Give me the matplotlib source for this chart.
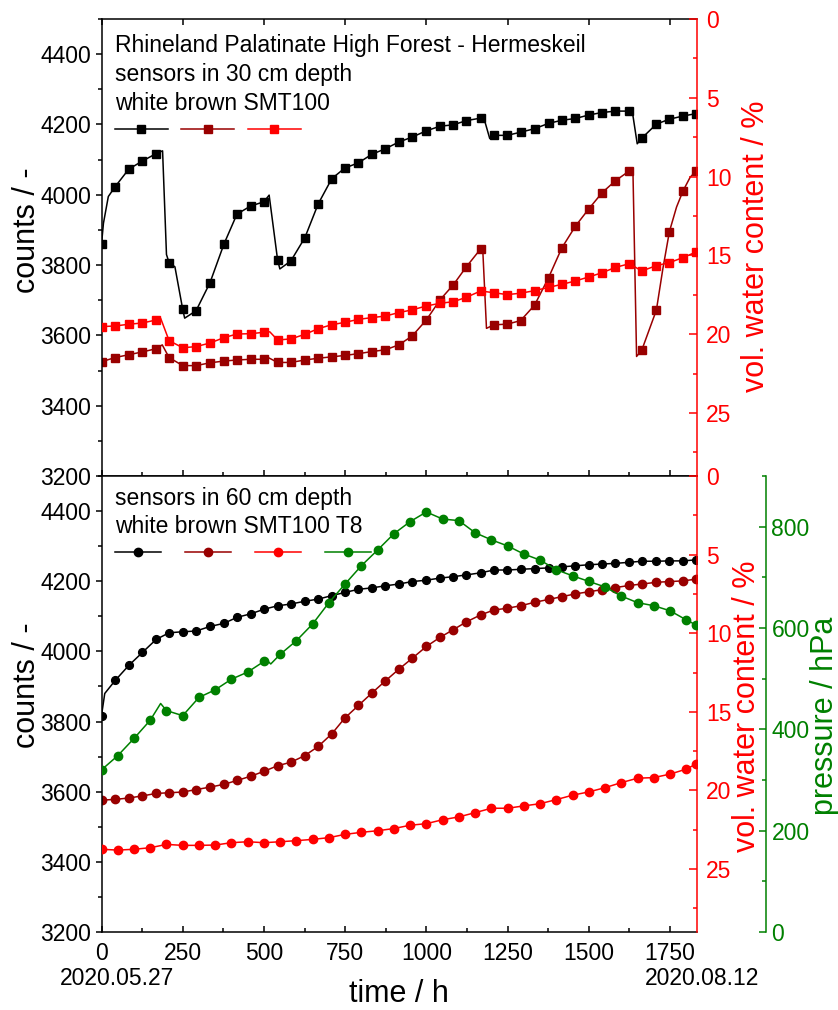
import matplotlib
matplotlib.use("Agg")
import matplotlib.pyplot as plt
from matplotlib.lines import Line2D
from matplotlib.ticker import MultipleLocator

plt.rcParams['font.family'] = ['Liberation Sans', 'DejaVu Sans']

# -------------------------------
# Data
# -------------------------------
# marker times for white / brown sensors (h)
t_sq = [0, 42, 84, 126, 168, 208, 250, 291, 334, 377, 417, 459, 500, 542, 583,
        626, 667, 709, 749, 791, 832, 874, 915, 956, 1000, 1042, 1083, 1123,
        1167, 1208, 1249, 1290, 1333, 1376, 1417, 1459, 1500, 1541, 1582, 1625,
        1663, 1708, 1748, 1790, 1831]

# 30 cm depth
white30 = [3859, 4023, 4073, 4096, 4117, 3807, 3674, 3670, 3750, 3860, 3945, 3968,
           3980, 3815, 3812, 3878, 3974, 4046, 4076, 4091, 4115, 4131, 4150, 4164,
           4182, 4195, 4199, 4211, 4218, 4169, 4169, 4178, 4188, 4203, 4212, 4217,
           4227, 4234, 4238, 4238, 4161, 4201, 4215, 4224, 4231]
white30_xe = [6, 21, 188, 200, 226, 256, 516, 549, 1178, 1195, 1634, 1649]
white30_ye = [3919, 3995, 4125, 3830, 3795, 3649, 3999, 3789, 4215, 4160, 4236, 4145]

brown30 = [3525, 3537, 3545, 3553, 3562, 3537, 3514, 3514, 3522, 3527, 3530, 3532,
           3532, 3523, 3523, 3530, 3535, 3539, 3543, 3548, 3554, 3559, 3573, 3598,
           3644, 3701, 3744, 3795, 3846, 3630, 3632, 3642, 3686, 3764, 3849, 3911,
           3960, 4006, 4040, 4068, 3558, 3672, 3895, 4011, 4068]
brown30_xe = [187, 513, 1174, 1185, 1636, 1647, 1728, 1770, 1812]
brown30_ye = [3573, 3537, 3835, 3620, 4060, 3540, 3790, 3965, 4050]

smt30 = [19.52, 19.48, 19.37, 19.29, 19.10, 20.41, 20.86, 20.79, 20.56, 20.22,
         19.99, 19.97, 19.88, 20.37, 20.30, 20.01, 19.65, 19.40, 19.25, 19.06,
         18.95, 18.85, 18.63, 18.46, 18.21, 18.04, 17.94, 17.66, 17.26, 17.37,
         17.49, 17.40, 17.24, 17.03, 16.84, 16.62, 16.37, 16.10, 15.76, 15.53,
         15.99, 15.65, 15.46, 15.14, 14.78]
smt30_xe = [182, 518]
smt30_ye = [18.99, 19.85]

# 60 cm depth
white60 = [3817, 3917, 3960, 3997, 4034, 4053, 4056, 4058, 4071, 4080, 4097, 4107,
           4120, 4130, 4135, 4143, 4149, 4159, 4168, 4177, 4181, 4187, 4192, 4199,
           4203, 4209, 4213, 4218, 4224, 4232, 4232, 4234, 4236, 4238, 4241, 4244,
           4247, 4249, 4251, 4254, 4257, 4257, 4258, 4258, 4261]
white60_xe = [10]
white60_ye = [3880]

brown60 = [3576, 3578, 3582, 3588, 3595, 3597, 3599, 3606, 3613, 3621, 3632, 3644,
           3658, 3674, 3684, 3703, 3729, 3765, 3810, 3846, 3881, 3916, 3949, 3980,
           4014, 4040, 4062, 4084, 4104, 4118, 4123, 4130, 4140, 4148, 4156, 4164,
           4170, 4176, 4182, 4188, 4192, 4197, 4199, 4201, 4206]

# marker times for SMT100 / T8 (h)
t_ci = [0, 50, 100, 150, 200, 250, 300, 350, 400, 450, 500, 550, 600, 650, 700,
        750, 800, 850, 900, 950, 1000, 1050, 1100, 1150, 1200, 1250, 1300, 1350,
        1400, 1450, 1500, 1550, 1600, 1650, 1700, 1750, 1800, 1830]

smt60 = [23.74, 23.79, 23.74, 23.64, 23.43, 23.49, 23.49, 23.47, 23.32, 23.26,
         23.32, 23.26, 23.19, 23.11, 23.00, 22.79, 22.66, 22.56, 22.42, 22.21,
         22.11, 21.86, 21.68, 21.41, 21.13, 21.13, 20.98, 20.84, 20.58, 20.30,
         20.09, 19.82, 19.50, 19.22, 19.18, 18.96, 18.64, 18.32]

t8_60 = [320, 348, 382, 418, 437, 427, 463, 478, 499, 513, 534, 548, 575, 608, 650,
         687, 723, 754, 786, 810, 829, 815, 812, 788, 774, 762, 746, 734, 715, 703,
         692, 681, 663, 650, 644, 634, 616, 606]
t8_60_xe = [182, 508, 521]
t8_60_ye = [451, 537, 529]

BLACK, WINE, RED, GREEN = '#000000', '#990000', '#ff0000', '#008000'
FS_TICK, FS_LAB = 16.5, 22


def merged(xm, ym, xe, ye):
    pts = sorted(zip(list(xm) + list(xe), list(ym) + list(ye)))
    return [p[0] for p in pts], [p[1] for p in pts]


# -------------------------------
# Figure / axes
# -------------------------------
W, H = 838, 1010
L, R = 101.5, 697
fig = plt.figure(figsize=(W / 100, H / 100), dpi=100)
ax1 = fig.add_axes([L / W, 1 - 476 / H, (R - L) / W, 457 / H])
ax2 = fig.add_axes([L / W, 1 - 932 / H, (R - L) / W, 456 / H])
ax1r = ax1.twinx()
ax2r = ax2.twinx()
ax2g = ax2.twinx()


def style_counts(ax):
    ax.set_xlim(0, 1833)
    ax.set_ylim(3200, 4500)
    ax.xaxis.set_major_locator(MultipleLocator(250))
    ax.xaxis.set_minor_locator(MultipleLocator(125))
    ax.yaxis.set_major_locator(MultipleLocator(200))
    ax.yaxis.set_minor_locator(MultipleLocator(100))
    ax.tick_params(axis='y', which='both', direction='out', labelsize=FS_TICK, pad=3, width=1.1)
    ax.tick_params(axis='y', which='major', length=4.5)
    ax.tick_params(axis='y', which='minor', length=3)
    ax.tick_params(axis='x', which='both', direction='in', labelsize=FS_TICK, pad=7, width=1.1)
    ax.tick_params(axis='x', which='major', length=4.5)
    ax.tick_params(axis='x', which='minor', length=3)
    ax.spines['right'].set_visible(False)
    for s in ['left', 'top', 'bottom']:
        ax.spines[s].set_linewidth(1.1)
    ax.set_ylabel('counts / -', fontsize=FS_LAB)


def style_vwc(ax):
    ax.set_ylim(29, 0)
    ax.yaxis.set_major_locator(MultipleLocator(5))
    ax.yaxis.set_minor_locator(MultipleLocator(2.5))
    ax.tick_params(axis='y', which='both', direction='in', colors=RED,
                   labelsize=FS_TICK, pad=6.5, width=1.1)
    ax.tick_params(axis='y', which='major', length=5.5)
    ax.tick_params(axis='y', which='minor', length=3)
    for s in ['left', 'top', 'bottom']:
        ax.spines[s].set_visible(False)
    ax.spines['right'].set_color(RED)
    ax.spines['right'].set_linewidth(1.1)
    ax.set_ylabel('vol. water content / %', fontsize=FS_LAB, color=RED)


style_counts(ax1)
style_counts(ax2)
style_vwc(ax1r)
style_vwc(ax2r)
ax1.tick_params(axis='x', top=True, bottom=True, labelbottom=False)
ax2.tick_params(axis='x', top=False, bottom=True, labelbottom=True)

ax2g.set_ylim(0, 900)
ax2g.yaxis.set_major_locator(MultipleLocator(200))
ax2g.yaxis.set_minor_locator(MultipleLocator(100))
ax2g.spines['right'].set_position(('axes', 1.1166))
for s in ['left', 'top', 'bottom']:
    ax2g.spines[s].set_visible(False)
ax2g.spines['right'].set_color(GREEN)
ax2g.spines['right'].set_linewidth(1.1)
ax2g.tick_params(axis='y', which='both', direction='in', colors=GREEN,
                 labelsize=FS_TICK, pad=3.6, width=1.1)
ax2g.tick_params(axis='y', which='major', length=4.8)
ax2g.tick_params(axis='y', which='minor', length=3)
ax2g.set_ylabel('pressure / hPa', fontsize=FS_LAB, color=GREEN)

# label positions
ax1.yaxis.set_label_coords(-0.1, 0.538)
ax2.yaxis.set_label_coords(-0.1, 0.542)
ax1r.yaxis.set_label_coords(1.074, 0.502)
ax2r.yaxis.set_label_coords(1.059, 0.496)
ax2g.yaxis.set_label_coords(1.189, 0.474)
ax2.set_xlabel('time / h', fontsize=FS_LAB, va='baseline')
ax2.xaxis.set_label_coords(0.5, -0.154)

# -------------------------------
# Top panel: 30 cm
# -------------------------------
LW, MS_SQ, MS_CI = 1.1, 6.4, 6.0
x, y = merged(t_sq, white30, white30_xe, white30_ye)
ax1.plot(x, y, '-', color=BLACK, lw=LW)
ax1.plot(t_sq, white30, 's', color=BLACK, ms=MS_SQ)
x, y = merged(t_sq, brown30, brown30_xe, brown30_ye)
ax1.plot(x, y, '-', color=WINE, lw=LW)
ax1.plot(t_sq, brown30, 's', color=WINE, ms=MS_SQ)
x, y = merged(t_sq, smt30, smt30_xe, smt30_ye)
ax1r.plot(x, y, '-', color=RED, lw=LW)
ax1r.plot(t_sq, smt30, 's', color=RED, ms=MS_SQ)

top_lines = ['Rhineland Palatinate High Forest - Hermeskeil',
             'sensors in 30 cm depth', 'white brown SMT100']
for txt, yy in zip(top_lines, [0.9284, 0.865, 0.801]):
    ax1r.text(0.0227, yy, txt, transform=ax1.transAxes, fontsize=FS_TICK, va='baseline')

h_top = [Line2D([], [], color=c, marker='s', ms=MS_SQ, lw=LW) for c in [BLACK, WINE, RED]]
ax1r.legend(h_top, ['', '', ''], loc='center left', bbox_to_anchor=(0.0227, 0.7556),
            ncol=3, frameon=False, handlelength=2.3, handletextpad=0.1,
            columnspacing=0.5, borderpad=0, borderaxespad=0, fontsize=FS_TICK)

# -------------------------------
# Bottom panel: 60 cm
# -------------------------------
x, y = merged(t_sq, white60, white60_xe, white60_ye)
ax2.plot(x, y, '-', color=BLACK, lw=LW)
ax2.plot(t_sq, white60, 'o', color=BLACK, ms=MS_CI - 0.4)
ax2.plot(t_sq, brown60, '-o', color=WINE, lw=LW, ms=MS_CI)
ax2r.plot(t_ci, smt60, '-o', color=RED, lw=LW, ms=MS_CI)
x, y = merged(t_ci, t8_60, t8_60_xe, t8_60_ye)
ax2g.plot(x, y, '-', color=GREEN, lw=LW)
ax2g.plot(t_ci, t8_60, 'o', color=GREEN, ms=MS_CI)

for txt, yy in zip(['sensors in 60 cm depth', 'white brown SMT100 T8'], [0.9375, 0.875]):
    ax2g.text(0.0227, yy, txt, transform=ax2.transAxes, fontsize=FS_TICK, va='baseline')

h_bot = [Line2D([], [], color=c, marker='o', ms=MS_CI, lw=LW) for c in [BLACK, WINE, RED, GREEN]]
ax2g.legend(h_bot, ['', '', '', ''], loc='center left', bbox_to_anchor=(0.0227, 0.829),
            ncol=4, frameon=False, handlelength=2.0, handletextpad=0.1,
            columnspacing=0.95, borderpad=0, borderaxespad=0, fontsize=FS_TICK)

# start / end dates under the time axis
ax2.annotate('2020.05.27', xy=(0, 0), xycoords=('data', 'axes fraction'),
             xytext=(15, -53), textcoords='offset pixels', ha='center', va='baseline',
             fontsize=FS_TICK, annotation_clip=False)
ax2.annotate('2020.08.12', xy=(1833, 0), xycoords=('data', 'axes fraction'),
             xytext=(5, -53), textcoords='offset pixels', ha='center', va='baseline',
             fontsize=FS_TICK, annotation_clip=False)

fig.savefig('out.png', dpi=100)
